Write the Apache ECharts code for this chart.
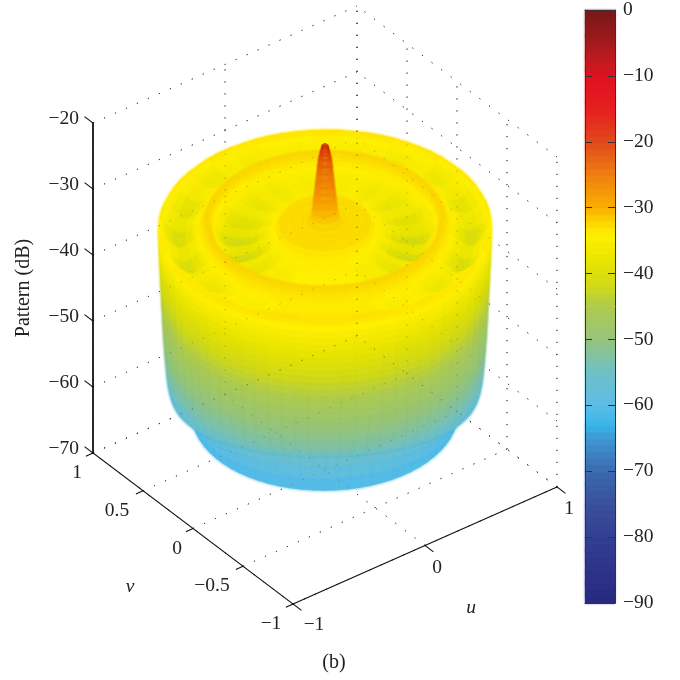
<!DOCTYPE html>
<html><head><meta charset="utf-8">
<style>html,body{margin:0;padding:0;background:#fff}#c{width:680px;height:680px}</style>
<script src="https://cdn.jsdelivr.net/npm/echarts@6/dist/echarts.min.js"></script>
</head><body><div id="c"></div>
<script>
// ---------- data ----------
const zTicks = [-20, -30, -40, -50, -60, -70];
const uTicks = [-1, 0, 1];
const vTicks = [1, 0.5, 0, -0.5, -1];
// radial profile of the pattern: radius, dB, ripple weight, skirt-lift weight
const profileRadius = [0,.005,.01,.015,.02,.026,.031,.036,.041,.046,.051,.056,.061,.066,.075,.09,.105,.125,.145,.17,.19,.21,.235,.255,.275,.30,.33,.36,.40,.45,.50,.55,.60,.63,.66,.68,.69,.70,.71,.72,.73,.74,.76,.78,.80,.84,.88,.92,.96,.985,1,
  1,.998,.996,.994,.992,.99,.988,.986,.984,.982,.98,.978,.976,.974,.972,.97,.968,.965,.962,.959,.956,.952,.948,.943,.935,.925,.905,.885,.86,.84,.825,.82,.81,.805,.80];
const profileDb = [-21,-21.2,-21.5,-21.9,-22.4,-23,-24,-25,-26,-27,-28,-29,-30,-31,-31.8,-32.6,-33,-32.2,-32.8,-33,-32.3,-32.8,-33,-32.2,-33,-33.6,-33.8,-33.8,-33.9,-34,-34,-34,-34,-33.9,-33.6,-33.2,-32.8,-32.3,-32,-32.3,-32.8,-33.2,-33.4,-33.6,-33.6,-33.6,-33.6,-33.4,-33.2,-33,-33,
  -33.5,-34.5,-35.5,-36.5,-37.5,-38.5,-39.5,-40.5,-41.5,-42.5,-43.5,-44.5,-45.5,-46.5,-47.5,-48.5,-49.5,-50.5,-51.5,-52.5,-53.5,-54.5,-55.5,-56.5,-57.5,-58.5,-59.5,-60,-60.5,-60.5,-60.5,-60.5,-60.8,-61.1,-61.5];
const profileRipple = [0,0,0,0,0,0,0,0,0,0,0,0,0,0,0,0,0,0,0,0,0,0,0,0,0,0,.1,.3,.6,.9,1,1,.8,.5,.2,.05,0,0,0,0,0,0,.1,.2,.4,.8,1,.8,.4,.2,.1,
  .1,.15,.2,.25,.3,.3,.3,.3,.25,.25,.2,.2,.15,.15,.1,.1,.05,.05,0,0,0,0,0,0,0,0,0,0,0,0,0,0,0,0,0];
const profileLift = [0,0,0,0,0,0,0,0,0,0,0,0,0,0,0,0,0,0,0,0,0,0,0,0,0,0,0,0,0,0,0,0,0,0,0,0,0,0,0,0,0,0,0,0,0,0,0,0,0,0,0,
  0,0,0,0,0,0,0,0,0,0,0,0,.05,.05,.1,.1,.15,.2,.25,.3,.35,.4,.5,.6,.7,.8,.9,.95,1,1,1,1,.6,.3,0];
// ripple depth (fraction) and skirt lift (dB) per 5 degree azimuth sector, 0 = right, 90 = front
const rippleBySector = [1,.6,.3,.6,1,.5,.2,.3,.5,.25,.1,.1,.2,.1,0,0,0,0,0,0,0,0,0,.1,.2,.1,.1,.25,.5,.3,.2,.5,1,.6,.3,.6,
  1,.6,.3,.6,.7,.4,.2,.3,.5,.25,.15,.25,.3,.15,.1,.15,.2,.1,.1,.1,.2,.15,.1,.15,.3,.25,.15,.25,.5,.3,.2,.4,.7,.4,.3,.6];
const liftBySector = [0,.5,1,1.4,1.9,2.3,2.7,3.1,3.5,3.8,4.2,4.5,4.7,4.9,5.1,5.2,5.3,5.4,5.4,5.4,5.3,5.2,5.1,4.9,4.7,4.5,4.2,3.8,3.5,3.1,2.7,2.3,1.9,1.4,1,.5,
  0,0,0,0,0,0,0,0,0,0,0,0,0,0,0,0,0,0,0,0,0,0,0,0,0,0,0,0,0,0,0,0,0,0,0,0];
const colorLevels = [0,-3,-8,-10,-15,-20,-25,-30,-32,-34,-38,-42,-45,-50,-55,-60,-62,-63,-65,-70,-75,-80,-90];
const colorHexes = ['#7a1616','#8f1a1c','#c41a20','#e01020','#e52020','#e04a1c','#f08010','#fab000','#fbd500','#fff000','#e8e400','#cfd91a','#aecb50','#95c47c','#6fc0c8','#5bbde6','#45b8e8','#35b5ea','#3f96d2','#3a6aae','#3a509c','#333f92','#28287f'];
const barLevels = [-90,-89,-88,-87,-86,-85,-84,-83,-82,-81,-80,-79,-78,-77,-76,-75,-74,-73,-72,-71,-70,-69,-68,-67,-66,-65,-64,-63,-62,-61,-60,-59,-58,-57,-56,-55,-54,-53,-52,-51,-50,-49,-48,-47,-46,-45,-44,-43,-42,-41,-40,-39,-38,-37,-36,-35,-34,-33,-32,-31,-30,-29,-28,-27,-26,-25,-24,-23,-22,-21,-20,-19,-18,-17,-16,-15,-14,-13,-12,-11,-10,-9,-8,-7,-6,-5,-4,-3,-2,-1];
const rippleDepthDb = 9;
const rippleHeightShare = 0.3;

// ---------- view ----------
const FONT = '"Liberation Serif", serif', TXT = '#222', LABEL = 19.5;
const project = (u, v, z) => [325 + 132 * u - 100 * v, 470 - 58.5 * u - 75.5 * v - 6.6 * (z + 70)];
const E = [132 / 165.6, -100 / 165.6], D = [100 / 165.6, 132 / 165.6];
const minus = s => String(s).replace('-', '\u2212');
function colorOf(db) {
  const d = Math.min(0, Math.max(-90, db));
  for (let i = 0; i < colorLevels.length - 1; i++) {
    if (d <= colorLevels[i] && d >= colorLevels[i + 1]) {
      return echarts.color.lerp((colorLevels[i] - d) / (colorLevels[i] - colorLevels[i + 1]), [colorHexes[i], colorHexes[i + 1]]);
    }
  }
  return colorHexes[colorHexes.length - 1];
}
const N = rippleBySector.length;
function vertex(ring, sec) {
  const s = (sec + N) % N, phi = sec * 2 * Math.PI / N, r = profileRadius[ring];
  const drop = profileRipple[ring] * rippleBySector[s] * rippleDepthDb;
  const base = profileDb[ring] + profileLift[ring] * liftBySector[s];
  const c = Math.cos(phi), n = Math.sin(phi);
  return { u: r * (c * E[0] - n * D[0]), v: r * (c * E[1] - n * D[1]), z: base - drop * rippleHeightShare, tone: base - drop, dp: -r * n };
}
const cells = [];
for (let i = 0; i < profileRadius.length - 1; i++) {
  for (let j = 0; j < N; j++) {
    const q = [vertex(i, j), vertex(i, j + 1), vertex(i + 1, j + 1), vertex(i + 1, j)];
    const depth = (q[0].dp + q[1].dp + q[2].dp + q[3].dp) / 4;
    const db = (q[0].tone + q[1].tone + q[2].tone + q[3].tone) / 4;
    cells.push({ value: [i, j, depth, db], q });
  }
}
cells.sort((a, b) => b.value[2] - a.value[2]);

const gridSegs = [];
uTicks.forEach(u => { gridSegs.push([[u, -1, -70], [u, 1, -70]]); gridSegs.push([[u, 1, -70], [u, 1, -20]]); });
vTicks.forEach(v => { gridSegs.push([[-1, v, -70], [1, v, -70]]); gridSegs.push([[1, v, -70], [1, v, -20]]); });
zTicks.forEach(z => { gridSegs.push([[-1, 1, z], [1, 1, z]]); gridSegs.push([[1, -1, z], [1, 1, z]]); });
const segData = gridSegs.map((s, i) => ({ value: [i, 0] }));

const axisSegs = [
  { a: [-1, 1, -70], b: [-1, 1, -20], w: 1.8 },
  { a: [-1, 1, -70], b: [-1, -1, -70], w: 1.2 },
  { a: [-1, -1, -70], b: [1, -1, -70], w: 1.2 }
];
zTicks.forEach(z => axisSegs.push({ a: [-1, 1, z], b: [-1, 1.08, z], w: 1.1 }));
vTicks.forEach(v => axisSegs.push({ a: [-1, v, -70], b: [-1.05, v, -70], w: 1.1 }));
uTicks.forEach(u => axisSegs.push({ a: [u, -1, -70], b: [u, -1.08, -70], w: 1.1 }));
const axisData = axisSegs.map((s, i) => ({ value: [i, 0] }));

const labels = [];
zTicks.forEach(z => labels.push({ p: [-1, 1, z], dx: -14, dy: -4, t: minus(z), align: 'right' }));
vTicks.forEach(v => labels.push({ p: [-1, v, -70], dx: v === 1 ? -16 : v === -1 ? -22 : v === .5 ? -26 : v === 0 ? -16 : -31, dy: 20, t: minus(v), align: 'center' }));
uTicks.forEach(u => labels.push({ p: [u, -1, -70], dx: u === -1 ? 21 : 12, dy: u === -1 ? 21 : 22, t: minus(u), align: 'center' }));
labels.push({ xy: [130, 587], t: 'v', italic: true, align: 'center' });
labels.push({ xy: [471, 608], t: 'u', italic: true, align: 'center' });
labels.push({ xy: [334, 663], t: '(b)', align: 'center', size: 20 });
labels.push({ xy: [24, 288], t: 'Pattern (dB)', align: 'center', size: 20, rot: Math.PI / 2 });
const labelData = labels.map((l, i) => ({ value: [i, 0] }));

const chart = echarts.init(document.getElementById('c'), null, { renderer: 'canvas' });
const ptr = (api, p) => api.coord(project(p[0], p[1], p[2]));
const dottedItem = (color) => (params, api) => {
  const s = gridSegs[params.dataIndex], a = ptr(api, s[0]), b = ptr(api, s[1]);
  return { type: 'line', shape: { x1: a[0], y1: a[1], x2: b[0], y2: b[1] }, style: { stroke: color, lineWidth: 1, lineDash: [1.2, 10.8] }, silent: true };
};
const common = { type: 'custom', xAxisIndex: 0, yAxisIndex: 0, silent: true, animation: false, clip: false };
const barAxis = pos => ({ type: 'value', gridIndex: 1, min: -90, max: 0, interval: 10, position: pos, z: 5,
  axisLine: { show: true, onZero: false, lineStyle: { color: '#333', width: 1 } },
  axisTick: { show: true, inside: true, length: 7, lineStyle: { color: '#333', width: 1 } },
  axisLabel: { show: pos === 'right', margin: 8, color: TXT, fontFamily: FONT, fontSize: LABEL, formatter: v => minus(v) }, splitLine: { show: false } });
const barCap = pos => ({ type: 'value', gridIndex: 1, min: 0, max: 1, position: pos, axisLine: { show: true, onZero: false, lineStyle: { color: '#333', width: 1 } }, axisTick: { show: false }, axisLabel: { show: false }, splitLine: { show: false }, z: 5 });
chart.setOption({
  animation: false,
  backgroundColor: '#fff',
  grid: [
    { left: 0, top: 0, width: 680, height: 680, show: false },
    { left: 585, top: 8, width: 30, height: 595, show: false }
  ],
  xAxis: [{ type: 'value', gridIndex: 0, min: 0, max: 680, show: false }, barCap('bottom'), barCap('top')],
  yAxis: [{ type: 'value', gridIndex: 0, min: 0, max: 680, inverse: true, show: false }, barAxis('right'), barAxis('left')],
  series: [
    Object.assign({}, common, { z: 1, data: segData, renderItem: dottedItem('#333') }),
    Object.assign({}, common, { z: 2, data: cells.map(c => ({ value: c.value })), progressive: 0,
      renderItem: (params, api) => {
        const c = cells[params.dataIndex], col = colorOf(c.value[3]);
        return { type: 'polygon', shape: { points: c.q.map(p => api.coord(project(p.u, p.v, p.z))) }, style: { fill: col, stroke: col, lineWidth: 0.7, shadowBlur: 3, shadowColor: col }, silent: true };
      } }),
    Object.assign({}, common, { z: 3, data: segData, renderItem: dottedItem('rgba(70,70,50,0.45)') }),
    Object.assign({}, common, { z: 4, data: axisData, renderItem: (params, api) => {
        const s = axisSegs[params.dataIndex], a = ptr(api, s.a), b = ptr(api, s.b);
        return { type: 'line', shape: { x1: a[0], y1: a[1], x2: b[0], y2: b[1] }, style: { stroke: '#111', lineWidth: s.w, lineCap: 'square' }, silent: true };
      } }),
    Object.assign({}, common, { z: 4, data: labelData, renderItem: (params, api) => {
        const l = labels[params.dataIndex];
        let pos;
        if (l.xy) pos = api.coord(l.xy);
        else { const a = ptr(api, l.p); pos = [a[0] + l.dx, a[1] + l.dy]; }
        return { type: 'text', x: pos[0], y: pos[1], rotation: l.rot || 0, silent: true,
          style: { text: l.t, fill: TXT, font: (l.italic ? 'italic ' : '') + (l.size || LABEL) + 'px ' + FONT, textAlign: l.align, textVerticalAlign: 'middle' } };
      } }),
    { type: 'custom', xAxisIndex: 1, yAxisIndex: 1, silent: true, animation: false, z: 1,
      data: barLevels.map(b => ({ value: [0, b] })),
      renderItem: (params, api) => {
        const lvl = api.value(1);
        const a = api.coord([0, lvl + 1]), b = api.coord([1, lvl]);
        const col = colorOf(lvl + 0.5);
        return { type: 'rect', shape: { x: a[0], y: a[1], width: b[0] - a[0], height: b[1] - a[1] + 0.5 }, style: { fill: col, shadowBlur: 2, shadowColor: col }, silent: true };
      } }
  ]
});
</script></body></html>
